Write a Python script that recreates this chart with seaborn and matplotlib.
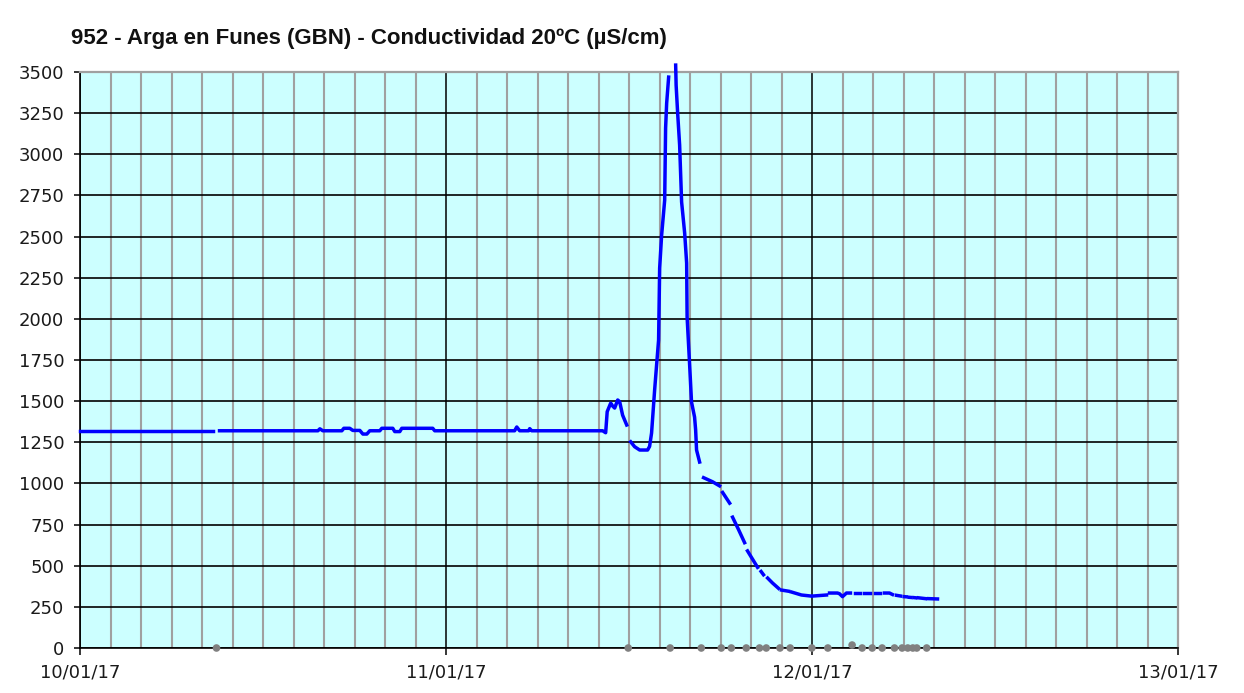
import numpy as np
import pandas as pd
import matplotlib
matplotlib.use("Agg")
import matplotlib.pyplot as plt
import seaborn as sns

# ---------------- data (hours after 10/01/17 00:00) ----------------
nan = np.nan
hours = [0.0, 8.75, 8.95,
         9.15, 15.6, 15.73, 15.92, 17.17, 17.3, 17.69, 17.89, 18.35, 18.55, 18.81, 19.0,
         19.66, 19.79, 20.51, 20.64, 20.97, 21.1, 23.13, 23.26, 28.5, 28.64, 28.83,
         29.42, 29.49, 29.62, 34.27, 34.47, 34.57, 34.8, 34.93, 35.06, 35.26, 35.39,
         35.58, 35.85, 35.95,
         36.11, 36.37, 36.7, 37.22, 37.35, 37.48, 37.68, 37.81, 37.94, 38.01, 38.14,
         38.34, 38.4, 38.47, 38.6, 38.7,
         39.06, 39.09, 39.19, 39.32, 39.45, 39.65, 39.78, 39.81, 39.97, 40.1, 40.3,
         40.37, 40.43, 40.63, 40.74,
         40.89, 41.48, 41.94, 42.05,
         42.14, 42.6, 42.71,
         42.79, 43.18, 43.58, 43.69,
         43.77, 44.1, 44.43, 44.56,
         44.66, 44.82, 45.0,
         45.09, 45.41, 45.81, 45.9,
         46.0, 46.46, 46.57,
         46.66, 47.31, 47.9, 47.99,
         48.1, 48.95, 49.04,
         49.15, 49.67, 49.8, 50.0, 50.26, 50.52, 50.63,
         50.79, 51.18, 51.29,
         51.44, 51.83, 51.95,
         52.1, 52.49, 52.6,
         52.75, 53.08, 53.28, 53.41,
         53.54, 53.8, 53.91,
         54.04, 54.18, 54.28,
         54.38, 54.5, 54.61,
         54.7, 54.8, 54.87,
         54.98, 55.44, 55.52,
         55.64, 56.23]
cond = [1320, 1320, nan,
        1320, 1320, 1332, 1320, 1320, 1335, 1335, 1322, 1322, 1300, 1300, 1320,
        1320, 1335, 1335, 1315, 1315, 1335, 1335, 1320, 1320, 1343, 1320,
        1320, 1333, 1320, 1320, 1308, 1436, 1488, 1470, 1458, 1507, 1496,
        1415, 1355, nan,
        1253, 1223, 1203, 1203, 1225, 1306, 1567, 1720, 1871, 2308, 2509,
        2722, 3159, 3311, 3469, nan,
        3542, 3420, 3250, 3056, 2710, 2521, 2339, 2011, 1731, 1494, 1403,
        1324, 1203, 1130, nan,
        1035, 1010, 985, nan,
        945, 880, nan,
        795, 720, 640, nan,
        590, 540, 490, nan,
        465, 445, nan,
        425, 395, 362, nan,
        352, 345, nan,
        340, 322, 316, nan,
        316, 322, nan,
        334, 334, 330, 312, 334, 334, nan,
        334, 334, nan,
        334, 334, nan,
        334, 334, nan,
        334, 334, 325, nan,
        320, 316, nan,
        312, 311, nan,
        308, 307, nan,
        306, 305, nan,
        305, 300, nan,
        300, 298]

# invalid / missing readings shown as grey dots
flag_hours = [8.95, 35.95, 38.7, 40.74, 42.05, 42.71, 43.69, 44.56, 45.0, 45.9,
              46.57, 47.99, 49.04, 50.63, 51.29, 51.95, 52.6, 53.41, 53.91, 54.28,
              54.61, 54.87, 55.52]
flag_vals = [0, 0, 0, 0, 0, 0, 0, 0, 0, 0,
             0, 0, 0, 18, 0, 0, 0, 0, 0, 0,
             0, 0, 0]

day_ticks = [0, 24, 48, 72]
day_labels = ["10/01/17", "11/01/17", "12/01/17", "13/01/17"]
y_ticks = list(range(0, 3501, 250))
title = "952 - Arga en Funes (GBN) - Conductividad 20ºC (µS/cm)"

# ---------------- figure ----------------
sns.set_theme(style="white")
plt.rcParams["font.family"] = ["DejaVu Sans"]

df = pd.DataFrame({"hours": hours, "cond": cond})
df["seg"] = df["cond"].isna().cumsum()
df = df.dropna()

fig = plt.figure(figsize=(12.44, 6.93), dpi=100)
fig.patch.set_facecolor("white")
ax = fig.add_axes([80 / 1244, 1 - 648 / 693, (1178 - 80) / 1244, (648 - 72) / 693])
ax.set_facecolor("#CCFFFF")

sns.lineplot(data=df, x="hours", y="cond", units="seg", estimator=None,
             color="#0000FF", linewidth=2.5, ax=ax, clip_on=False, zorder=4,
             solid_capstyle="projecting", legend=False)
sns.scatterplot(x=flag_hours, y=flag_vals, color="#808080", s=30,
                edgecolor="none", ax=ax, clip_on=False, zorder=6, legend=False)

ax.set_xlim(0, 72)
ax.set_ylim(0, 3500)
ax.set_xticks(day_ticks)
ax.set_xticklabels(day_labels)
ax.set_xticks(np.arange(0, 73, 2), minor=True)
ax.set_yticks(y_ticks)
ax.set_yticklabels([str(v) for v in y_ticks])
ax.set_xlabel("")
ax.set_ylabel("")

ax.set_axisbelow(True)
ax.grid(False)
ax.xaxis.grid(True, which="minor", color="#A0A0A0", linewidth=1.5)
ax.xaxis.grid(True, which="major", color="black", linewidth=1.1)
ax.yaxis.grid(True, which="major", color="black", linewidth=1.2)

ax.tick_params(axis="y", which="major", direction="out", length=4.3, width=1.1,
               color="black", labelsize=13, labelcolor="#1a1a1a", pad=7, left=True)
ax.tick_params(axis="x", which="major", direction="out", length=5, width=1.1,
               color="black", labelsize=13, labelcolor="#1a1a1a", pad=6, bottom=True)
ax.tick_params(axis="x", which="minor", length=0)

for s in ["left", "bottom"]:
    ax.spines[s].set_color("black")
    ax.spines[s].set_linewidth(1.2)
for s in ["top", "right"]:
    ax.spines[s].set_color("#A0A0A0")
    ax.spines[s].set_linewidth(1.6)

fig.text(71 / 1244, 1 - 44 / 693, title, fontsize=16, fontweight="bold",
         family=["Liberation Sans", "DejaVu Sans"],
         color="#111111", ha="left", va="baseline")

fig.savefig("out.png", dpi=100, facecolor="white")
